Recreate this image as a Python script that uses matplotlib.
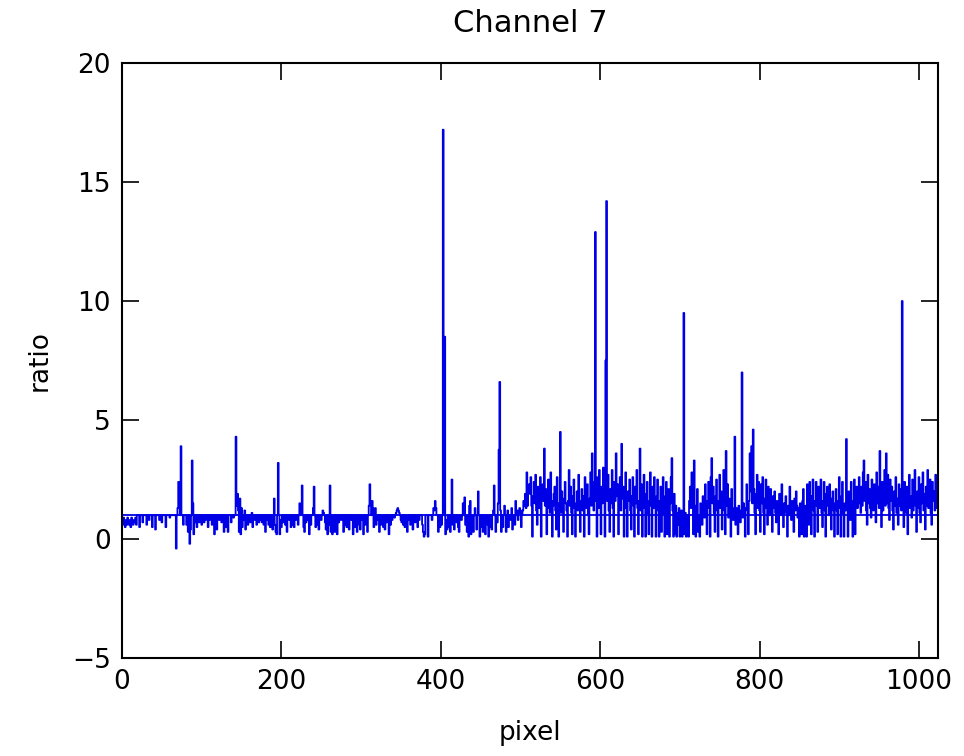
import numpy as np
import matplotlib
matplotlib.use("Agg")
import matplotlib.pyplot as plt

# ratio per detector pixel, channel 7
ratio = [
    0.8, 0.6, 0.9, 0.7, 0.5, 0.8, 0.6, 0.9, 0.7, 0.6, 0.8, 0.5, 0.9, 0.7, 0.6, 0.8,
    0.7, 0.9, 0.6, 1, 1, 1, 0.5, 1, 1, 1, 0.7, 1, 1, 1, 1, 0.6,
    1, 1, 0.8, 1, 1, 1, 0.5, 1, 1, 1, 0.4, 1, 1, 1, 1, 0.8,
    1, 1, 0.7, 1, 1, 1, 1, 0.5, 1, 1, 1, 1, 0.9, 1, 1, 1,
    1, 1, 1, 1, -0.4, 1, 1.3, 2.4, 1.5, 1, 3.9, 1, 1, 0.6, 1, 1,
    1, 0.6, 1, 0.3, 1, -0.2, 0.4, 1, 3.3, 1.5, 0.2, 1, 0.7, 1, 0.5, 1,
    1, 0.7, 1, 1, 0.6, 1, 1, 0.7, 1, 0.8, 1, 1, 0.5, 1, 0.8, 1,
    1, 0.6, 1, 1, 0.2, 1, 1, 0.4, 1, 1, 0.8, 1, 1, 0.7, 1, 1,
    0.3, 1, 1, 0.5, 1, 0.3, 1, 1, 1, 0.7, 1, 1, 0.9, 1, 1, 4.3,
    1.4, 1.9, 1.2, 0.3, 1.7, 0.2, 1.3, 0.5, 1, 0.8, 1.2, 0.4, 1, 1, 0.6, 1,
    1, 0.7, 1, 1.1, 0.5, 1, 1, 0.8, 1, 0.6, 1, 1, 0.7, 1, 0.8, 1,
    0.7, 1, 0.6, 1, 0.3, 1, 0.8, 1, 0.6, 1, 0.5, 1, 0.7, 0.4, 1, 1.7,
    0.6, 0.3, 0.2, 1, 3.2, 1, 0.2, 0.8, 0.5, 1, 0.7, 1, 1, 0.6, 1, 0.3,
    1, 1, 0.8, 1, 0.5, 1, 0.6, 1, 0.5, 1, 0.8, 1, 1, 0.6, 1, 1.5,
    1, 1.2, 2.25, 1, 0.5, 0.3, 1, 0.7, 1, 0.8, 1, 0.2, 1, 0.6, 1, 1,
    1.3, 2.2, 1, 0.5, 1, 1, 0.6, 0.4, 1, 1, 0.8, 1, 1.2, 1.1, 1, 0.7,
    0.4, 1, 0.2, 1, 0.6, 2.25, 0.3, 1, 0.2, 0.5, 1, 0.3, 1, 0.6, 0.2, 1,
    0.7, 1, 1, 0.8, 1, 1, 0.3, 1, 0.6, 1, 0.5, 1, 1, 0.4, 1, 1,
    0.8, 1, 0.2, 1, 0.5, 0.7, 1, 0.3, 1, 1, 0.6, 0.4, 1, 0.8, 1, 0.2,
    1, 0.6, 1, 1, 0.3, 1, 1.4, 2.3, 1.6, 1, 1.6, 1.3, 0.5, 1, 1.3, 0.6,
    1, 0.8, 1, 0.3, 1, 0.6, 1, 1, 0.5, 1, 0.4, 1, 0.7, 1, 1, 0.2,
    1, 0.6, 1, 0.8, 1, 1, 0.9, 1, 1.1, 1.2, 1.3, 1.2, 1.1, 1, 0.8, 0.7,
    1, 0.6, 1, 0.5, 1, 0.7, 0.3, 1, 0.8, 1, 0.6, 1, 1, 0.4, 1, 1,
    0.7, 1, 1, 0.5, 1, 0.8, 1, 1, 1, 0.6, 0.3, 0.1, 0.2, 1, 1, 1,
    0.1, 1, 1, 1, 1, 0.8, 1, 1.3, 1.2, 1.6, 1.3, 1, 1, 0.3, 1, 0.5,
    1, 0.6, 1, 17.2, 1, 8.5, 0.2, 0.8, 0.4, 1, 0.5, 1, 0.3, 1, 2.5, 0.6,
    1, 0.4, 1, 1, 0.7, 1, 0.5, 0.3, 1, 1, 0.8, 1, 1.5, 1, 1.75, 0.6,
    1, 0.3, 1, 0.1, 1.4, 1.6, 0.2, 1, 0.5, 0.3, 1, 1.3, 1, 0.4, 1, 2.0,
    1, 0.1, 1, 0.5, 1, 0.3, 1, 0.8, 0.2, 1, 1, 0.6, 0.1, 1, 0.5, 1,
    0.4, 1, 1.2, 2.25, 1, 0.3, 1, 0.7, 1.5, 3.75, 6.6, 1.2, 0.3, 1, 0.5, 1,
    1.4, 1, 0.3, 1, 1.2, 0.5, 1, 0.8, 1, 1.3, 0.4, 1, 1, 0.6, 1.6, 1,
    1.2, 0.8, 1.1, 1.3, 1.2, 0.5, 1, 1.2, 1.6, 1.4, 1.9, 1.3, 2.8, 1.4, 2.0, 2.3,
    1.9, 2.6, 1.4, 0.1, 1.8, 2.4, 1.5, 2.7, 1.2, 0.6, 2.2, 1.7, 1.3, 2.6, 0.1, 1.9,
    2.3, 1.6, 3.8, 1.4, 2.1, 0.2, 1.7, 2.5, 1.3, 1.1, 2.8, 1.6, 0.1, 1.4, 1.9, 2.2,
    1.2, 0.4, 2.6, 1.5, 0.1, 1.3, 4.5, 1.1, 2.0, 1.4, 0.3, 1.7, 2.4, 1.5, 1.2, 0.1,
    1.6, 2.9, 1.4, 2.2, 1.1, 0.2, 1.8, 2.5, 1.3, 0.1, 1.5, 2.0, 1.2, 2.7, 1.6, 0.3,
    1.4, 2.1, 1.2, 1.8, 0.1, 2.6, 1.5, 1.3, 2.3, 1.0, 0.2, 1.7, 2.8, 1.4, 3.6, 1.9,
    1.2, 2.4, 12.9, 1.6, 0.1, 2.6, 1.3, 2.9, 1.7, 0.2, 2.2, 1.5, 3.0, 1.8, 0.1, 7.5,
    14.2, 1.6, 2.7, 1.2, 0.3, 2.1, 1.5, 2.9, 1.3, 0.1, 2.4, 1.6, 3.6, 1.8, 2.3, 0.2,
    1.4, 2.6, 1.2, 4.0, 1.7, 2.2, 0.1, 1.5, 2.8, 1.3, 0.1, 2.0, 1.6, 2.5, 1.2, 0.4,
    1.8, 2.6, 1.4, 0.1, 2.2, 1.5, 2.9, 1.3, 0.2, 1.6, 3.8, 1.2, 2.3, 0.1, 1.5, 2.7,
    1.3, 0.1, 1.9, 2.4, 1.1, 0.2, 1.6, 2.8, 1.4, 0.1, 2.2, 1.3, 2.6, 1.5, 0.1, 1.8,
    2.5, 1.2, 0.1, 1.6, 2.2, 0.3, 1.4, 2.6, 1.1, 0.1, 1.8, 2.4, 0.2, 1.3, 2.1, 0.1,
    1.5, 2.6, 3.4, 1.2, 0.1, 1.9, 0.2, 1.4, 0.1, 1.1, 0.6, 1.3, 0.1, 0.8, 1.2, 0.1,
    0.9, 9.5, 0.2, 1.1, 0.1, 0.7, 1.0, 0.1, 1.6, 2.2, 1.3, 2.8, 1.5, 0.2, 3.3, 1.4,
    0.1, 1.2, 2.1, 0.3, 1.0, 0.1, 1.5, 1.3, 0.6, 1.8, 1.2, 0.9, 2.3, 1.4, 0.2, 1.6,
    2.4, 1.3, 0.1, 2.6, 3.4, 1.5, 2.2, 1.1, 0.3, 1.8, 2.5, 1.2, 0.1, 1.6, 2.7, 1.3,
    2.0, 0.4, 1.5, 2.9, 1.2, 0.2, 3.7, 1.4, 2.3, 0.9, 1.7, 1.1, 0.1, 2.1, 1.3, 0.8,
    1.2, 4.3, 0.6, 1.3, 1.0, 0.2, 1.4, 1.1, 0.7, 1.2, 7.0, 0.9, 1.5, 1.1, 0.1, 1.3,
    2.3, 1.2, 0.2, 1.6, 3.6, 2.0, 3.9, 1.5, 4.6, 2.1, 1.1, 0.2, 1.9, 2.7, 1.3, 2.4,
    1.2, 0.3, 2.3, 1.5, 2.6, 1.1, 0.2, 1.7, 2.5, 1.3, 0.6, 2.2, 1.4, 1.0, 2.1, 1.2,
    0.3, 1.8, 1.3, 2.0, 1.1, 0.7, 1.6, 1.2, 0.2, 1.9, 1.4, 1.0, 2.3, 1.2, 0.5, 1.5,
    1.1, 1.8, 1.2, 0.1, 1.4, 1.0, 2.2, 1.3, 0.8, 1.6, 1.1, 0.3, 1.7, 1.2, 2.0, 1.4,
    0.9, 1.3, 0.1, 1.5, 1.0, 0.2, 1.6, 2.1, 0.1, 1.2, 1.4, 0.1, 2.3, 1.1, 0.6, 2.4,
    1.3, 0.2, 1.8, 2.5, 1.2, 0.1, 1.6, 2.4, 1.4, 0.3, 2.2, 1.3, 1.8, 2.5, 1.1, 0.5,
    1.6, 2.4, 1.2, 0.1, 1.9, 2.2, 1.4, 1.0, 2.3, 1.3, 0.4, 1.7, 2.0, 1.2, 0.1, 1.5,
    2.1, 1.2, 0.2, 1.6, 2.6, 1.3, 0.1, 1.8, 2.4, 1.1, 0.1, 1.5, 1.2, 4.2, 1.4, 0.1,
    2.0, 1.3, 0.8, 2.4, 1.2, 0.1, 1.6, 2.5, 0.2, 1.4, 2.2, 1.3, 1.9, 2.6, 1.5, 1.1,
    2.2, 1.4, 2.8, 3.3, 1.6, 2.4, 1.2, 0.6, 2.7, 1.5, 2.1, 1.3, 0.9, 2.5, 1.6, 1.2,
    2.3, 1.4, 0.7, 2.8, 1.5, 2.2, 1.3, 3.7, 1.6, 0.5, 2.4, 1.2, 1.8, 2.9, 1.4, 3.6,
    1.5, 2.7, 1.3, 0.8, 2.5, 1.6, 2.2, 1.2, 0.4, 2.0, 1.4, 2.6, 1.1, 1.7, 0.6, 2.3,
    1.4, 2.1, 1.2, 10.0, 1.3, 0.5, 2.4, 1.6, 1.1, 2.2, 0.2, 1.4, 2.7, 1.3, 1.8, 0.9,
    2.5, 1.2, 1.6, 2.9, 1.4, 0.3, 2.0, 1.3, 2.6, 1.1, 0.7, 2.3, 1.5, 2.8, 1.2, 1.9,
    0.4, 2.2, 1.4, 2.9, 1.3, 1.7, 2.5, 1.1, 0.6, 2.4, 1.6, 2.0, 1.2, 2.7, 1.5, 1.3,
]
pixel = np.arange(len(ratio))
unity = 1.0  # reference level

xticks = [0, 200, 400, 600, 800, 1000]
yticks = [-5, 0, 5, 10, 15, 20]

fig = plt.figure(figsize=(9.64, 7.56), dpi=100)
ax = fig.add_axes([0.1266, 0.1296, 0.8465, 0.787])

ax.plot(pixel, ratio, color='#0000e6', linewidth=1.3, drawstyle='steps-mid')
ax.axhline(unity, color='#0000e6', linewidth=1.3)

ax.set_xlim(0, 1024)
ax.set_ylim(-5, 20)
ax.set_xticks(xticks)
ax.set_yticks(yticks)
ax.tick_params(direction='in', length=12, width=1.2, top=True, right=True,
               labelsize=19, pad=8, colors='black')
for s in ax.spines.values():
    s.set_linewidth(1.5)

ax.set_title("Channel 7", fontsize=22, pad=22)
ax.set_xlabel("pixel", fontsize=19, labelpad=18)
ax.set_ylabel("ratio", fontsize=19, labelpad=14)

fig.savefig("out.png", dpi=100)
